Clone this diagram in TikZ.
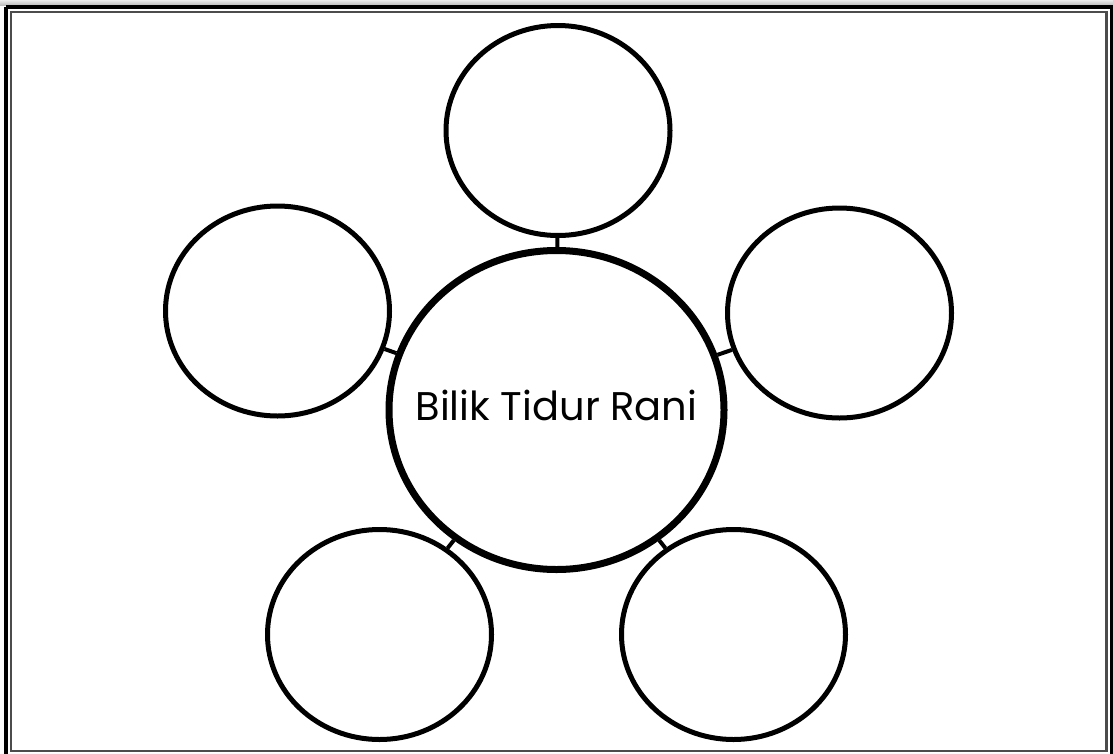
\documentclass[tikz,border=0pt]{standalone}
\usepackage{fontspec}
\setmainfont{Poppins}
\usetikzlibrary{shapes.geometric}
\tikzset{
  leaf/.style={draw, ellipse, line width=5pt, fill=white, inner sep=0pt,
    minimum width=224pt, minimum height=210pt},
  hub/.style={draw, ellipse, line width=7pt, fill=white, inner sep=0pt,
    minimum width=335pt, minimum height=319pt},
  hubtext/.style={font=\fontsize{40}{48}\selectfont, inner sep=0pt, yshift=5pt},
  link/.style={line width=4pt},
}
\begin{document}
\begin{tikzpicture}[x=1pt,y=-1pt]
\useasboundingbox (0,0) rectangle (1113,753);
\fill[white] (0,0) rectangle (1113,753);
\shade[top color=gray!15, bottom color=gray!50] (0,0) rectangle (1113,5);
\draw[line width=4pt] (6,7) -- (1112,7) -- (1112,760);
\draw[line width=4pt] (6,7) -- (6,760);
\draw[line width=2.5pt, black!70] (11,12) rectangle (1106.5,751);

\node[hub, label={[hubtext]center:Bilik Tidur Rani}] (c) at (556.5,410) {};
\node[leaf] (t) at (558,130.5) {};
\node[leaf] (l) at (277.5,311) {};
\node[leaf] (r) at (839.5,313) {};
\node[leaf] (bl) at (379.5,634.5) {};
\node[leaf] (br) at (733.5,634.5) {};

\foreach \n in {t,l,r,bl,br}{\draw[link] (c) -- (\n);}
\end{tikzpicture}
\end{document}
